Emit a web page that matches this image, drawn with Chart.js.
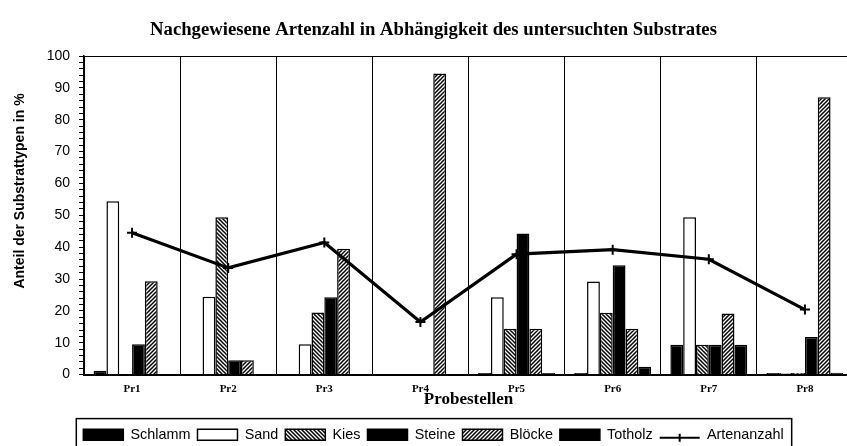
<!DOCTYPE html>
<html>
<head>
<meta charset="utf-8">
<script src="https://cdn.jsdelivr.net/npm/chart.js@4.4.0/dist/chart.umd.min.js"></script>
<style>
  html, body { margin: 0; padding: 0; background: #fff; overflow: hidden; }
  #wrap { position: relative; width: 866px; height: 446px; }
</style>
</head>
<body>
<div id="wrap"><canvas id="myChart" width="866" height="446"></canvas></div>
<script>
// Probestellen
const labels = ['Pr1', 'Pr2', 'Pr3', 'Pr4', 'Pr5', 'Pr6', 'Pr7', 'Pr8'];

// Anteil der Substrattypen in %
const schlamm = [1.2, 0, 0, 0, 0.5, 0.5, 9.4, 0.5];
const sand    = [54.4, 24.4, 9.5, 0, 24.3, 29.2, 49.4, 0.5];
const kies    = [0, 49.4, 19.5, 0, 14.4, 19.4, 9.4, 0.5];
const steine  = [9.5, 4.5, 24.3, 0, 44.3, 34.3, 9.4, 11.8];
const bloecke = [29.3, 4.5, 39.5, 94.5, 14.4, 14.4, 19.2, 87.1];
const totholz = [0, 0, 0, 0, 0.5, 2.5, 9.4, 0.6];

// Artenanzahl
const artenanzahl = [44.5, 33.5, 41.5, 16.5, 37.8, 39.2, 36.2, 20.4];

const yTicks = [0, 10, 20, 30, 40, 50, 60, 70, 80, 90, 100];

function hatch(dir) {
  const s = 4;
  const c = document.createElement('canvas');
  c.width = s; c.height = s;
  const g = c.getContext('2d');
  g.fillStyle = '#fff';
  g.fillRect(0, 0, s, s);
  g.strokeStyle = '#000';
  g.lineWidth = 1.5;
  g.beginPath();
  if (dir === '/') {
    g.moveTo(0, s); g.lineTo(s, 0);
    g.moveTo(-1, 1); g.lineTo(1, -1);
    g.moveTo(s - 1, s + 1); g.lineTo(s + 1, s - 1);
  } else {
    g.moveTo(0, 0); g.lineTo(s, s);
    g.moveTo(-1, s - 1); g.lineTo(1, s + 1);
    g.moveTo(s - 1, -1); g.lineTo(s + 1, 1);
  }
  g.stroke();
  return g.createPattern(c, 'repeat');
}

const canvas = document.getElementById('myChart');
const ctx = canvas.getContext('2d');
const kiesFill = hatch('\\');
const bloeckeFill = hatch('/');

const barBase = { type: 'bar', borderColor: '#000', borderWidth: 1.5, order: 1 };

// y-axis title, drawn a bit above centre like in the original
const yTitle = {
  id: 'yTitle',
  afterDraw(chart) {
    const c = chart.ctx;
    c.save();
    c.translate(20, 191);
    c.rotate(-Math.PI / 2);
    c.font = 'bold 14px "Liberation Sans"';
    c.fillStyle = '#000';
    c.textAlign = 'center';
    c.textBaseline = 'middle';
    c.fillText('Anteil der Substrattypen in %', 0, 0);
    c.restore();
  }
};

// frame round the legend + line symbol for Artenanzahl
const legendExtras = {
  id: 'legendExtras',
  afterDraw(chart) {
    const lg = chart.legend;
    const boxes = lg.legendHitBoxes;
    if (!boxes || !boxes.length) return;
    const c = chart.ctx;
    const first = boxes[0];
    const last = boxes[boxes.length - 1];
    c.save();
    c.strokeStyle = '#000';
    c.lineWidth = 1.5;
    c.strokeRect(first.left - 7, first.top - 9, last.left + last.width - first.left + 15, 60);
    const li = lg.legendItems.findIndex(it => chart.data.datasets[it.datasetIndex].type === 'line');
    if (li >= 0) {
      const hb = boxes[li];
      const y = hb.top + hb.height / 2 + 3;
      const x0 = hb.left, x1 = hb.left + 40, xm = (x0 + x1) / 2;
      c.lineWidth = 2;
      c.beginPath();
      c.moveTo(x0, y); c.lineTo(x1, y);
      c.moveTo(xm, y - 4); c.lineTo(xm, y + 4);
      c.stroke();
    }
    c.restore();
  }
};

new Chart(ctx, {
  data: {
    labels: labels,
    datasets: [
      { ...barBase, label: 'Schlamm', data: schlamm, backgroundColor: '#000' },
      { ...barBase, label: 'Sand', data: sand, backgroundColor: '#fff' },
      { ...barBase, label: 'Kies', data: kies, backgroundColor: kiesFill },
      { ...barBase, label: 'Steine', data: steine, backgroundColor: '#000' },
      { ...barBase, label: 'Blöcke', data: bloecke, backgroundColor: bloeckeFill },
      { ...barBase, label: 'Totholz', data: totholz, backgroundColor: '#000' },
      {
        type: 'line',
        label: 'Artenanzahl',
        data: artenanzahl,
        borderColor: '#000',
        backgroundColor: '#000',
        borderWidth: 3.2,
        tension: 0,
        pointStyle: 'cross',
        pointRadius: 5,
        pointBorderWidth: 2,
        pointBorderColor: '#000',
        order: 0
      }
    ]
  },
  options: {
    responsive: false,
    animation: false,
    devicePixelRatio: 1,
    layout: { padding: { left: 14, right: 13, top: 0, bottom: -6 } },
    datasets: { bar: { categoryPercentage: 0.8, barPercentage: 1 } },
    scales: {
      x: {
        ticks: { color: '#000', padding: 9, font: { family: 'Liberation Serif', size: 11, weight: 'bold', lineHeight: 1 } },
        grid: { color: '#000', lineWidth: 1, drawTicks: false, offset: true },
        border: { color: '#000', width: 2 },
        title: {
          display: true, text: 'Probestellen', color: '#000',
          font: { family: 'Liberation Serif', size: 17, weight: 'bold', lineHeight: 1 },
          padding: { top: 0, bottom: 12.5 }
        },
        afterFit: s => { s.height = 46; }
      },
      y: {
        min: 0, max: 100,
        ticks: {
          stepSize: 2, autoSkip: false, color: '#000', padding: 9,
          font: { family: 'Liberation Sans', size: 14 },
          callback: v => yTicks.includes(v) ? v : ''
        },
        grid: {
          color: c => (c.tick && c.tick.value === 100) ? '#000' : 'rgba(0,0,0,0)',
          tickColor: '#000', tickLength: 5, lineWidth: 1
        },
        border: { color: '#000', width: 1.5 },
        afterFit: s => { s.width = 70; }
      }
    },
    plugins: {
      title: {
        display: true,
        text: 'Nachgewiesene Artenzahl in Abhängigkeit des untersuchten Substrates',
        color: '#000',
        font: { family: 'Liberation Serif', size: 18.7, weight: 'bold' },
        padding: { top: 19, bottom: 14.6 }
      },
      legend: {
        position: 'bottom',
        labels: {
          boxWidth: 40, boxHeight: 11, padding: 7, color: '#000',
          font: { family: 'Liberation Sans', size: 14.4 },
          sort: (a, b) => a.datasetIndex - b.datasetIndex,
          generateLabels: chart => {
            const items = Chart.defaults.plugins.legend.labels.generateLabels(chart);
            items.forEach(it => {
              if (chart.data.datasets[it.datasetIndex].type === 'line') {
                it.fillStyle = 'rgba(0,0,0,0)';
                it.strokeStyle = 'rgba(0,0,0,0)';
                it.lineWidth = 0;
              }
            });
            return items;
          }
        }
      },
      tooltip: { enabled: false }
    }
  },
  plugins: [yTitle, legendExtras]
});
</script>
</body>
</html>
